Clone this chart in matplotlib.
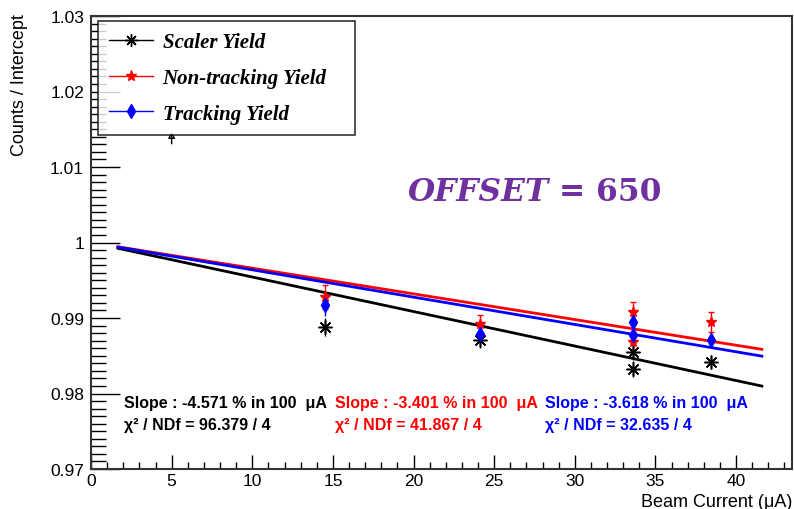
import matplotlib
matplotlib.use("Agg")
import matplotlib.pyplot as plt
import numpy as np
from matplotlib.lines import Line2D

# ---------------- data ----------------
beam_current = [14.5, 24.1, 33.6, 33.6, 38.45]
scaler_yield = [0.98881, 0.98709, 0.98550, 0.98325, 0.98417]
scaler_err = [0.0012, 0.0010, 0.0010, 0.0010, 0.0008]
nontrack_yield = [0.99278, 0.98921, 0.99080, 0.98682, 0.98947]
nontrack_err = [0.0016, 0.0012, 0.0013, 0.0013, 0.0013]
track_yield = [0.99172, 0.98788, 0.98947, 0.98775, 0.98709]
track_err = [0.0015, 0.0011, 0.0012, 0.0012, 0.0011]

outlier_x = [5.0]
outlier_lo = [1.0127]
outlier_hi = [1.0150]

fit_range = [1.67, 41.6]
slopes_pct = [-4.571, -3.401, -3.618]   # % per 100 uA
chi2 = [96.379, 41.867, 32.635]
ndf = [4, 4, 4]
series_names = ["Scaler Yield", "Non-tracking Yield", "Tracking Yield"]
series_colors = ["black", "red", "blue"]

xlim = [0, 43.47]
ylim = [0.97, 1.03]
xticks = [0, 5, 10, 15, 20, 25, 30, 35, 40]
yticks = [0.97, 0.98, 0.99, 1.0, 1.01, 1.02, 1.03]
ytick_labels = ["0.97", "0.98", "0.99", "1", "1.01", "1.02", "1.03"]

# ---------------- figure ----------------
fig = plt.figure(figsize=(7.94, 5.10), dpi=100)
ax = fig.add_axes([91 / 794, 40 / 510, 701 / 794, 453 / 510])
sans = "Liberation Sans"
serif = "Liberation Serif"

ax.set_xlim(*xlim)
ax.set_ylim(*ylim)

# fit lines
xf = np.array(fit_range)
for s, c in zip(slopes_pct, series_colors):
    ax.plot(xf, 1 + s / 100.0 / 100.0 * xf, color=c, lw=2, zorder=2)

# data points
ax.errorbar(beam_current, scaler_yield, yerr=scaler_err, fmt="none",
            ecolor="black", elinewidth=1, zorder=3)
ax.plot(beam_current, scaler_yield, ls="none", marker=(8, 2, 0),
        ms=10, mec="black", mew=1.1, color="black", zorder=4)
ax.errorbar(beam_current, nontrack_yield, yerr=nontrack_err, fmt="none",
            ecolor="red", elinewidth=1, capsize=2, zorder=3)
ax.plot(beam_current, nontrack_yield, ls="none", marker="*", ms=8,
        color="red", mec="red", zorder=4)
ax.errorbar(beam_current, track_yield, yerr=track_err, fmt="none",
            ecolor="blue", elinewidth=1, zorder=3)
ax.plot(beam_current, track_yield, ls="none", marker="d", ms=7,
        color="blue", mec="blue", zorder=5)

# off-frame point arrow (partly hidden by legend)
for xo, lo, hi in zip(outlier_x, outlier_lo, outlier_hi):
    ax.annotate("", xy=(xo, hi), xytext=(xo, lo),
                arrowprops=dict(arrowstyle="-|>,head_width=0.2,head_length=0.35",
                                color="black", lw=1, fill=False), zorder=1)

# legend
handles = [
    Line2D([], [], color="black", lw=1, marker=(8, 2, 0), ms=9, mew=1),
    Line2D([], [], color="red", lw=1, marker="*", ms=8),
    Line2D([], [], color="blue", lw=1, marker="d", ms=7),
]
leg = ax.legend(handles, series_names, loc="upper left",
                bbox_to_anchor=(0.010, 0.0, 0.367, 0.989), mode="expand",
                prop=dict(family=serif, weight="bold", style="italic", size=15),
                frameon=True, fancybox=False, shadow=False, borderpad=0.55,
                labelspacing=0.75, handlelength=2.1, handletextpad=0.45,
                borderaxespad=0.0)
leg.get_frame().set_edgecolor("black")
leg.get_frame().set_linewidth(1.2)
leg.set_zorder(10)

# slope / chi2 texts
xpos = [0.047, 0.348, 0.648]
for xp, s, ch, nd, c in zip(xpos, slopes_pct, chi2, ndf, series_colors):
    ax.text(xp, 0.1457, f"Slope : {s:.3f} % in 100  \u03bcA", transform=ax.transAxes,
            color=c, fontsize=11.5, fontweight="bold", family=sans, va="center")
    ax.text(xp, 0.0993, f"\u03c7\u00b2 / NDf = {ch:.3f} / {nd}",
            transform=ax.transAxes, color=c, fontsize=11.5, fontweight="bold",
            family=sans, va="center")

# OFFSET label
t1 = ax.text(0.452, 0.612, "OFFSET", transform=ax.transAxes, color="#7030A0",
             fontsize=22.5, fontweight="bold", style="italic", family="DejaVu Serif",
             va="center", ha="left")
ax.annotate("= 650", xy=(1, 0.5), xycoords=t1, xytext=(7, 0),
            textcoords="offset points", color="#7030A0", fontsize=22.5,
            fontweight="bold", family="DejaVu Serif", va="center", ha="left")

# axes styling
ax.set_xticks(xticks)
ax.set_xticks(np.arange(0, 43.5, 1), minor=True)
ax.set_yticks(yticks)
ax.set_yticklabels(ytick_labels)
ax.set_yticks(np.arange(0.97, 1.0301, 0.001), minor=True)
ax.tick_params(axis="both", which="both", direction="in", top=False, right=False,
               width=1, colors="black")
ax.tick_params(axis="x", which="major", length=10, pad=3)
ax.tick_params(axis="x", which="minor", length=5)
ax.tick_params(axis="y", which="major", length=21, pad=5)
ax.tick_params(axis="y", which="minor", length=11)
for lab in ax.get_xticklabels() + ax.get_yticklabels():
    lab.set_family(sans)
    lab.set_fontsize(12.5)
for sp in ax.spines.values():
    sp.set_linewidth(1.5)
    sp.set_color("#333333")

fig.text(20 / 794, 1 - 14 / 510, "Counts / Intercept", rotation=90, ha="center",
         va="top", fontsize=13, family=sans)
fig.text(792 / 794, 1 - 503 / 510, "Beam Current (\u03bcA)", ha="right",
         va="center", fontsize=13, family=sans)

fig.savefig("out.png", dpi=100)
